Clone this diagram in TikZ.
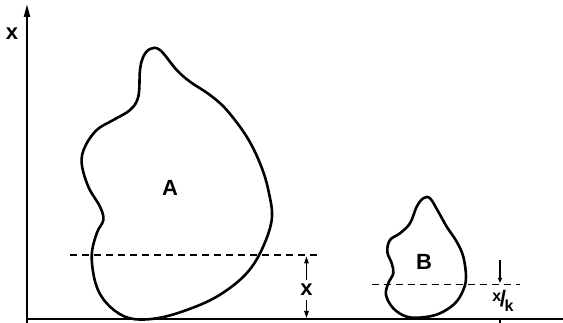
\documentclass[tikz,border=0pt]{standalone}
\usepackage{fontspec}
\setmainfont{Liberation Sans}
\usetikzlibrary{arrows.meta}
\begin{document}
\begin{tikzpicture}[x=1pt,y=-1pt,
  blob/.style={line width=2.6pt,line join=round},
  axis/.style={line width=2.2pt},
  dash line/.style={line width=1.4pt,dash pattern=on 7pt off 5pt},
  dim/.style={line width=1.2pt},
  lbl/.style={inner sep=0pt,font=\fontsize{22}{22}\selectfont\bfseries},
  small lbl/.style={inner sep=0pt,font=\fontsize{16}{16}\selectfont\bfseries}]
\useasboundingbox (0,0) rectangle (563,323);
% axes
\coordinate (O) at (27,319);
\coordinate (Ytop) at (27,4);
\coordinate (Xend) at (563,319);
\draw[axis,-{Triangle[length=13pt,width=6pt]}] (27,323) -- (Ytop);
\draw[axis] (O) -- (Xend);
\node[lbl] (xl) at (12,34) {x};
% blob A
\draw[blob] plot[smooth cycle,tension=0.6] coordinates {
 (160,50) (176.7,70) (190,81.7) (210,95) (226.7,110) (246.7,136.7) (260,163.3)
 (268.3,190) (271.7,220) (260,253.3) (243.3,276.7) (216.7,296.7) (186.7,310)
 (156.7,318.3) (130,318.3) (110,306.7) (96.7,286.7) (91.7,256.7) (96.7,233.3)
 (103.3,220) (100,206.7) (88.3,186.7) (81.7,163.3) (85,146.7) (96.7,130)
 (113.3,120) (130,110) (138.3,96.7) (140,70) (143.3,56.7) (150,49)};
\node[lbl] (A) at (170,188) {A};
% blob B
\draw[blob] plot[smooth cycle,tension=0.6] coordinates {
 (430,198.3) (438.3,211.7) (446.7,226.7) (456.7,241.7) (463.3,256.7) (466,276.7)
 (463.3,290) (455,303.3) (440,313.3) (423.3,317.3) (406.7,316.7) (393.3,308.3)
 (386,295) (388.3,283.3) (393.3,273.3) (391.7,263.3) (387.3,251.7) (390,240)
 (400,233.3) (410,223.3) (416.7,206.7) (423.3,198.3)};
\node[lbl] (B) at (424,262) {B};
% dashed levels
\coordinate (dA1) at (70,255);
\coordinate (dA2) at (320,255);
\draw[dash line] (dA1) -- (dA2);
\coordinate (dB1) at (372,284.5);
\coordinate (dB2) at (520,284.5);
\draw[dash line] (dB1) -- (dB2);
% dimension x
\node[lbl] (xd) at (306.5,290) {x};
\coordinate (xdt) at (306.5,256.5);
\coordinate (xdb) at (306.5,318);
\draw[dim,-{Triangle[length=7pt,width=4.5pt]}] (xd.north) ++(0,-4) -- (xdt);
\draw[dim,-{Triangle[length=7pt,width=4.5pt]}] (xd.south) ++(0,4) -- (xdb);
% dimension x/k
\coordinate (kt) at (500,260);
\coordinate (kb) at (500,283);
\draw[dim,-{Triangle[length=5pt,width=4pt]}] (kt) -- (kb);
\node[small lbl] (xk) at (503,301)
  {\raisebox{5pt}{x}\kern-1.5pt\scalebox{1.4}{/}\kern-1.5pt\raisebox{-5pt}{k}};
\coordinate (kbot) at (500,323);
\coordinate (kbase) at (500,319);
\draw[dim] (kbot) -- (kbase);
\end{tikzpicture}
\end{document}
